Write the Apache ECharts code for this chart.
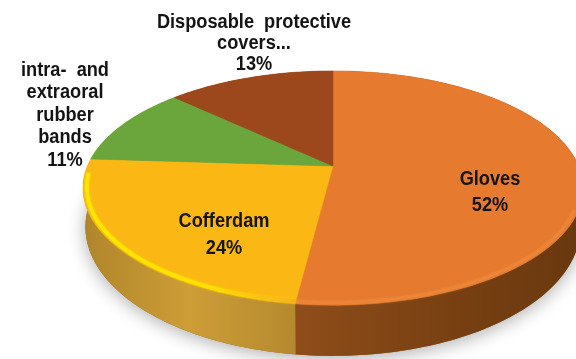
<!DOCTYPE html>
<html><head><meta charset="utf-8">
<style>html,body{margin:0;padding:0;background:#fff}#c{width:576px;height:359px}</style>
<script src="https://cdn.jsdelivr.net/npm/echarts@6/dist/echarts.min.js"></script>
</head><body><div id="c"></div>
<script>
const categories = ['Gloves', 'Cofferdam', 'intra- and extraoral rubber bands', 'Disposable protective covers...'];
const shares = [52, 24, 11, 13];
const labelLines = ['Gloves', 'Cofferdam', 'intra-  and\nextraoral\nrubber\nbands', 'Disposable  protective\ncovers...'];
const topColors = ['#e67a2e', '#fbb713', '#6aa63c', '#9d481c'];
const wallStops = [['#8f4d1a', '#7a4112', '#69380f'], ['#b0852a', '#cd9d37', '#b5892e'], ['#8a8a30', '#8a8a30', '#8a8a30'], ['#6b3010', '#6b3010', '#6b3010']];
const labelBoxes = [[490, 192, 26], [224, 235, 27], [65, 115, 22.5], [254, 43, 21]];

const total = shares.reduce((a, b) => a + b, 0);
const cum = []; shares.reduce((s, v, i) => (cum[i] = s, s + v), 0);

// perspective disc
const CX = 333, CY = 166, A = 245.6, B = 113, P = 0.188;
const BASE_CY = 188, WALL_SY = 1.1, WALL_SX = 0.99, WALL_Y = 227;
function proj(t, r) {
  const u = r * Math.sin(t), v = -r * Math.cos(t), w = 1 - P * v;
  return [CX + A * u / w, CY + B * v / w];
}
function low(p) { return [CX + (p[0] - CX) * WALL_SX, WALL_Y + (p[1] - BASE_CY) * WALL_SY]; }
function arc(a0, a1, r) {
  const n = Math.max(4, Math.ceil(Math.abs(a1 - a0) / 0.02)), out = [];
  for (let i = 0; i <= n; i++) out.push(proj(a0 + (a1 - a0) * i / n, r));
  return out;
}

function renderSlice(params, api) {
  const i = params.dataIndex, val = api.value(0);
  const a0 = cum[i] / total * 2 * Math.PI, a1 = (cum[i] + val) / total * 2 * Math.PI;
  const edge = arc(a0, a1, 1);
  const children = [];
  const wall = edge.concat(edge.map(low).reverse());
  const xs = wall.map(p => p[0]);
  const x0 = Math.max(Math.min.apply(null, xs), 80), x1 = Math.min(Math.max.apply(null, xs), 600);
  if (i === 0) {
    const full = arc(0, 2 * Math.PI, 1).map(low);
    children.push({ type: 'polygon', z2: 0, shape: { points: full },
      style: { fill: '#8a6a30', shadowBlur: 18, shadowColor: 'rgba(0,0,0,0.32)', shadowOffsetY: 3 } });
  }
  children.push({ type: 'polygon', z2: 1, shape: { points: wall },
    style: { fill: new echarts.graphic.LinearGradient(x0, 0, x1, 0, [
      { offset: 0, color: wallStops[i][0] }, { offset: 0.5, color: wallStops[i][1] }, { offset: 1, color: wallStops[i][2] }
    ], true) } });
  children.push({ type: 'polygon', z2: 5, shape: { points: [proj(0, 0)].concat(edge) },
    style: { fill: topColors[i], stroke: topColors[i], lineWidth: 0.5 } });
  if (i === 1) {
    const pts = arc(a0, Math.PI * 1.48, 0.985);
    children.push({ type: 'polyline', z2: 6, shape: { points: pts },
      style: { fill: null, lineWidth: 4, shadowBlur: 3, shadowColor: 'rgba(255,225,0,0.6)',
        stroke: new echarts.graphic.LinearGradient(pts[0][0], 0, pts[pts.length - 1][0], 0, [
          { offset: 0, color: '#f4b020' }, { offset: 0.45, color: '#ffe200' }, { offset: 1, color: '#ffe600' }
        ], true) } });
  }
  if (i === 0) {
    const pts = arc(Math.PI * 0.62, a1, 0.985);
    children.push({ type: 'polyline', z2: 6, shape: { points: pts },
      style: { fill: null, stroke: '#f08a3c', lineWidth: 4, opacity: 0.5, shadowBlur: 3, shadowColor: '#f08a3c' } });
  }
  return { type: 'group', children };
}

function renderLabel(params, api) {
  const i = params.dataIndex, b = labelBoxes[i];
  return { type: 'text', z2: 20, x: b[0], y: b[1], scaleX: 0.91,
    style: { text: labelLines[i] + '\n' + api.value(0) + '%', x: 0, y: 0, textAlign: 'center', textVerticalAlign: 'middle',
      fontFamily: '"Liberation Sans", Arial, sans-serif', fontWeight: 'bold', fontSize: 20, lineHeight: b[2], fill: '#141414' } };
}

const data = categories.map((n, i) => ({ name: n, value: [shares[i]] }));
const chart = echarts.init(document.getElementById('c'), null, { renderer: 'canvas' });
chart.setOption({
  animation: false,
  backgroundColor: '#fff',
  series: [
    { type: 'custom', coordinateSystem: 'none', renderItem: renderSlice, data: data, silent: true, z: 2 },
    { type: 'custom', coordinateSystem: 'none', renderItem: renderLabel, data: data, silent: true, z: 3 }
  ]
});
</script></body></html>
